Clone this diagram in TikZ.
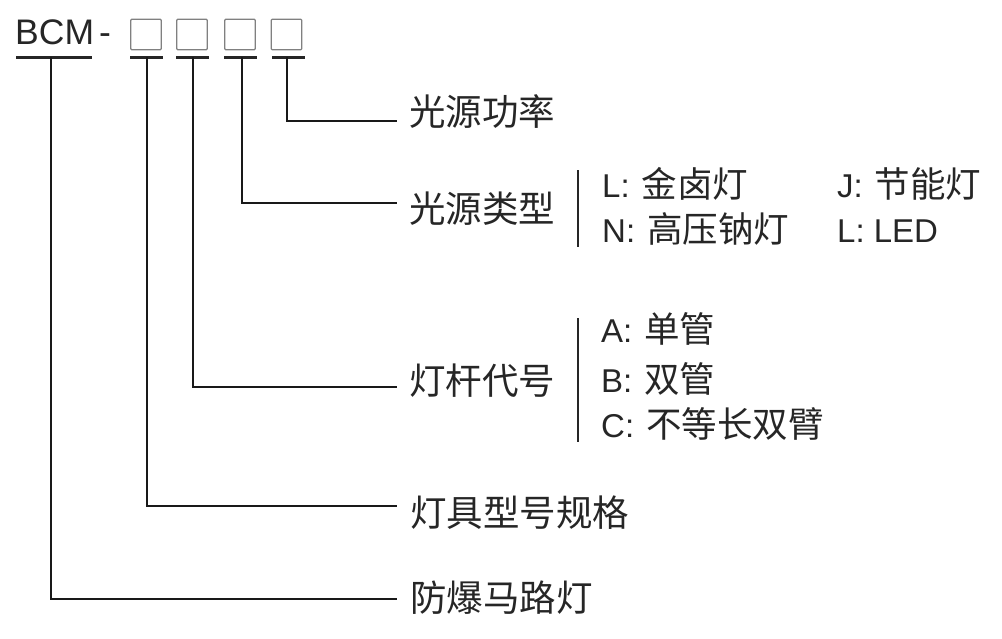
\documentclass[tikz,border=0pt]{standalone}
\usepackage{fontspec}
\setmainfont{Liberation Sans}
\newfontfamily\cjk{Noto Sans CJK SC}
\newcommand{\cj}[1]{\hspace{12pt}{\cjk\fontsize{35.5}{38}\selectfont #1}}
\begin{document}
\begin{tikzpicture}[x=1pt,y=-1pt,
  box/.style={draw=black!50,line width=1.4pt,minimum size=30.5pt,inner sep=0pt,rounded corners=1pt},
  uline/.style={line width=3pt,black!85},
  conn/.style={line width=2pt,black!90},
  bar/.style={line width=2pt,black!85},
  lab/.style={anchor=west,inner sep=0pt,font=\cjk\fontsize{36.5}{40}\selectfont,text=black!85},
  opt/.style={anchor=base west,inner sep=0pt,font=\fontsize{33}{38}\selectfont,text=black!85},
  code/.style={anchor=base west,inner sep=0pt,font=\fontsize{35.5}{40}\selectfont,text=black!85}]
\useasboundingbox (0,0) rectangle (1002,638);
% header
\node[code] (bcm) at (15,44) {BCM};
\node[code] (dash) at (99,44) {-};
\node[box] (b1) at (146,34.5) {};
\node[box] (b2) at (192,34.5) {};
\node[box] (b3) at (240,34.5) {};
\node[box] (b4) at (286.5,34.5) {};
% underlines
\draw[uline] (16,57) -- (92,57);
\draw[uline] (130,57) -- (163,57);
\draw[uline] (176,57) -- (209,57);
\draw[uline] (224,57) -- (257,57);
\draw[uline] (272,57) -- (305,57);
\coordinate (u0) at (51,57);
\coordinate (u1) at (147,57);
\coordinate (u2) at (193,57);
\coordinate (u3) at (242,57);
\coordinate (u4) at (287,57);
% line ends
\coordinate (e4) at (397,121);
\coordinate (e3) at (397,203);
\coordinate (e2) at (397,387);
\coordinate (e1) at (397,506);
\coordinate (e0) at (397,599);
% labels
\node[lab] (l4) at (409,112) {光源功率};
\node[lab] (l3) at (409,209) {光源类型};
\node[lab] (l2) at (409,381) {灯杆代号};
\node[lab] (l1) at (410,513) {灯具型号规格};
\node[lab] (l0) at (410,598) {防爆马路灯};
% connectors
\draw[conn] (u4) |- (e4);
\draw[conn] (u3) |- (e3);
\draw[conn] (u2) |- (e2);
\draw[conn] (u1) |- (e1);
\draw[conn] (u0) |- (e0);
% bars
\coordinate (t3) at (578,170);
\coordinate (s3) at (578,247);
\coordinate (t2) at (578,318);
\coordinate (s2) at (578,442);
\draw[bar] (t3) -- (s3);
\draw[bar] (t2) -- (s2);
% options
\node[opt] (o1) at (602,197) {L:\cj{金卤灯}};
\node[opt] (o2) at (602,242) {N:\cj{高压钠灯}};
\node[opt] (o3) at (837,197) {J:\cj{节能灯}};
\node[opt] (o4) at (837,242) {L: LED};
\node[opt] (oa) at (601,342) {A:\cj{单管}};
\node[opt] (ob) at (601,392) {B:\cj{双管}};
\node[opt] (oc) at (601,437) {C:\cj{不等长双臂}};
\end{tikzpicture}
\end{document}
